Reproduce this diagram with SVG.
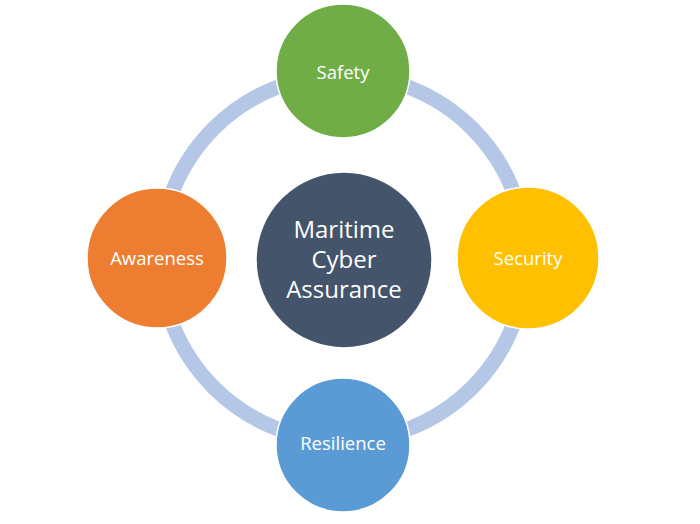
<svg xmlns="http://www.w3.org/2000/svg" width="700" height="524" viewBox="0 0 700 524">
<style>
.node{stroke:#ffffff;stroke-width:1.5}
.lbl{font-family:"Open Sans","Liberation Sans",sans-serif;fill:#ffffff;text-anchor:middle;dominant-baseline:central}
.small{font-size:18.5px}
.big{font-size:24px}
</style>
<rect width="700" height="524" fill="#ffffff"/>
<g id="connectors">
<circle cx="343" cy="258" r="183" fill="none" stroke="#B4C7E7" stroke-width="15"/>
</g>
<g id="center">
<circle class="node" cx="344" cy="260" r="88" fill="#44546A"/>
<text class="lbl big" x="344" y="228">Maritime</text>
<text class="lbl big" x="344" y="258">Cyber</text>
<text class="lbl big" x="344" y="288">Assurance</text>
</g>
<g id="safety">
<circle class="node" cx="343" cy="71" r="67" fill="#70AD47"/>
<text class="lbl small" x="343" y="71">Safety</text>
</g>
<g id="awareness">
<circle class="node" cx="157" cy="258" r="70" fill="#ED7D31"/>
<text class="lbl small" x="157" y="257">Awareness</text>
</g>
<g id="security">
<circle class="node" cx="528" cy="258" r="71" fill="#FFC000"/>
<text class="lbl small" x="528" y="257">Security</text>
</g>
<g id="resilience">
<circle class="node" cx="343" cy="445" r="67" fill="#5B9BD5"/>
<text class="lbl small" x="343" y="442">Resilience</text>
</g>
</svg>
